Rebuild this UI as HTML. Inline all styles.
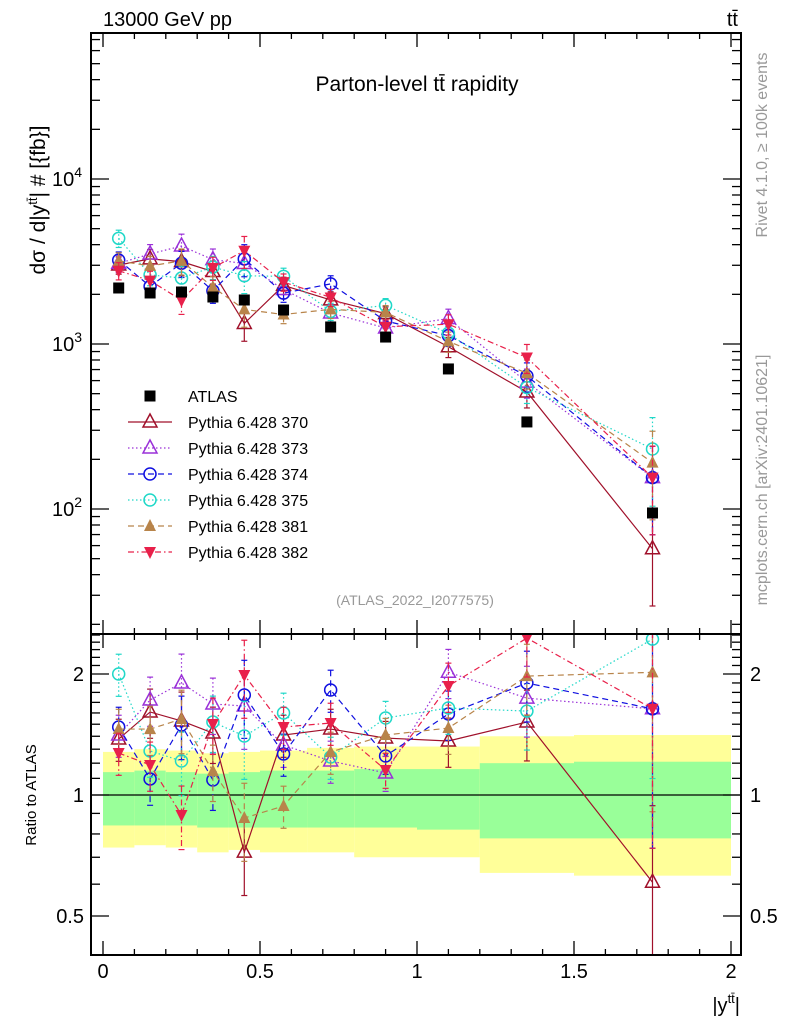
<!DOCTYPE html>
<html><head><meta charset="utf-8">
<style>
body{margin:0;background:#fff;}
svg{display:block;font-family:"Liberation Sans",sans-serif;}
</style></head>
<body>
<svg id="chart" width="786" height="1024" viewBox="0 0 786 1024"></svg>
<script>
const xCenters=[0.05,0.15,0.25,0.35,0.45,0.575,0.725,0.9,1.1,1.35,1.75];
const xEdges=[0,0.1,0.2,0.3,0.4,0.5,0.65,0.8,1.0,1.2,1.5,2.0];
const atlas=[2185,2038,2066,1927,1848,1607,1268,1102,706,337,94.6];
const s370=[3011,3279,3157,2748,1332,2266,1850,1527,962,512,57.4];
const s373=[3081,3512,3925,3245,3077,2139,1541,1250,1426,587,155];
const s374=[3225,2234,3085,2100,3277,2033,2314,1378,1123,640,155];
const s375=[4370,2623,2510,2927,2591,2571,1576,1713,1162,545,231];
const s381=[3188,2973,3192,2210,1620,1509,1622,1554,1036,666,191];
const s382=[2779,2421,1843,2894,3676,2372,1915,1272,1318,828,155];
const mcRelErr=[0.12,0.14,0.18,0.16,0.22,0.12,0.12,0.1,0.14,0.2,0.55];
const totUp=[0.28,0.30,0.29,0.27,0.28,0.29,0.31,0.32,0.32,0.40,0.41];
const totDn=[0.26,0.25,0.26,0.28,0.27,0.28,0.28,0.30,0.30,0.36,0.37];
const statUp=[0.14,0.15,0.14,0.13,0.14,0.15,0.15,0.16,0.16,0.20,0.21];
const statDn=[0.16,0.16,0.16,0.17,0.17,0.17,0.17,0.17,0.18,0.22,0.22];
const xTicks=[0,0.5,1,1.5,2];
const yTicksMain=[2,3,4];

const svg=document.getElementById('chart');
const NS='http://www.w3.org/2000/svg';
const L=91,R=741,T=33,MB=634,RB=955;
const X=v=>103+v*314;
const Y=v=>344-(Math.log10(v)-3)*165;
const YR=r=>795-Math.log2(r)*121;
function el(tag,attrs,parent){const e=document.createElementNS(NS,tag);for(const k in attrs)e.setAttribute(k,attrs[k]);(parent||svg).appendChild(e);return e;}
function txt(s,attrs,parent){const e=el('text',attrs,parent);e.textContent=s;return e;}

const defs=el('defs',{});
const c1=el('clipPath',{id:'cm'},defs);el('rect',{x:L,y:T,width:R-L,height:MB-T},c1);
const c2=el('clipPath',{id:'cr'},defs);el('rect',{x:L,y:MB,width:R-L,height:RB-MB},c2);

const gBand=el('g',{'clip-path':'url(#cr)'});


for(let i=0;i<xCenters.length;i++){
  const x0=X(xEdges[i]),x1=X(xEdges[i+1]);
  const yb=el('rect',{x:x0,y:YR(1+totUp[i]),width:x1-x0,height:YR(1-totDn[i])-YR(1+totUp[i]),fill:'#ffff99'},gBand);
  
  
  const gb=el('rect',{x:x0,y:YR(1+statUp[i]),width:x1-x0,height:YR(1-statDn[i])-YR(1+statUp[i]),fill:'#99ff99'},gBand);
  
  
}
el('line',{x1:L,x2:R,y1:YR(1),y2:YR(1),stroke:'#000','stroke-width':1.2});

const series=[
 {name:'Pythia 6.428 370',v:s370,c:'#a0102a',dash:'',m:'tri-open'},
 {name:'Pythia 6.428 373',v:s373,c:'#9a30d8',dash:'1.5,2.5',m:'tri-open'},
 {name:'Pythia 6.428 374',v:s374,c:'#1010e0',dash:'6,4',m:'circ'},
 {name:'Pythia 6.428 375',v:s375,c:'#20d8c8',dash:'1.5,2.5',m:'circ'},
 {name:'Pythia 6.428 381',v:s381,c:'#b8844a',dash:'6,4',m:'tri-fill'},
 {name:'Pythia 6.428 382',v:s382,c:'#e8204a',dash:'6,3,1.5,3',m:'tri-down'}
];
function marker(g,type,x,y,c){
  if(type==='tri-open')el('polygon',{points:`${x},${y-8} ${x-7},${y+5} ${x+7},${y+5}`,fill:'none',stroke:c,'stroke-width':1.5},g);
  else if(type==='circ')el('circle',{cx:x,cy:y,r:6,fill:'none',stroke:c,'stroke-width':1.5},g);
  else if(type==='tri-fill')el('polygon',{points:`${x},${y-7} ${x-6},${y+5} ${x+6},${y+5}`,fill:c},g);
  else if(type==='tri-down')el('polygon',{points:`${x},${y+7} ${x-6},${y-5} ${x+6},${y-5}`,fill:c},g);
  else if(type==='sq')el('rect',{x:x-5.5,y:y-5.5,width:11,height:11,fill:c},g);
}
function drawSeries(s,yf,ratio,clip){
  const g=el('g',{'clip-path':clip});
  
  
  const vals=s.v.map((v,i)=>ratio?v/atlas[i]:v);
  let d='';
  vals.forEach((v,i)=>{d+=(i?'L':'M')+X(xCenters[i])+','+yf(v);});
  el('path',{d:d,fill:'none',stroke:s.c,'stroke-width':1.2,'stroke-dasharray':s.dash},g);
  vals.forEach((v,i)=>{
    const x=X(xCenters[i]);
    const e=mcRelErr[i];
    const y1=yf(v*(1+e)),y2=yf(Math.max(v*(1-e),1e-6));
    el('line',{x1:x,x2:x,y1:y1,y2:y2,stroke:s.c,'stroke-width':1.2,'stroke-dasharray':s.dash},g);
    el('line',{x1:x-3,x2:x+3,y1:y1,y2:y1,stroke:s.c,'stroke-width':1.2},g);
    el('line',{x1:x-3,x2:x+3,y1:y2,y2:y2,stroke:s.c,'stroke-width':1.2},g);
    marker(g,s.m,x,yf(v),s.c);
  });
}
series.forEach(s=>drawSeries(s,Y,false,'url(#cm)'));
series.forEach(s=>drawSeries(s,YR,true,'url(#cr)'));

const ga=el('g',{'clip-path':'url(#cm)'});


atlas.forEach((v,i)=>{
  const x=X(xCenters[i]);
  el('line',{x1:x,x2:x,y1:Y(v*1.05),y2:Y(v*0.95),stroke:'#000'},ga);
  marker(ga,'sq',x,Y(v),'#000');
});

el('rect',{x:L,y:T,width:R-L,height:MB-T,fill:'none',stroke:'#000','stroke-width':2});
el('rect',{x:L,y:MB,width:R-L,height:RB-MB,fill:'none',stroke:'#000','stroke-width':2});

for(let k=0;k<=20;k++){
  const v=k/10,x=X(v),maj=(k%5===0),len=maj?14:6;
  [[T,1],[MB,-1],[MB,1],[RB,-1]].forEach(([y,dir])=>el('line',{x1:x,x2:x,y1:y,y2:y+dir*len,stroke:'#000','stroke-width':1.3}));
}
xTicks.forEach(v=>{const t=txt(String(v),{x:X(v),y:978,'font-size':20,'text-anchor':'middle'});
 });
for(let d=1;d<=4;d++){for(let m=1;m<=9;m++){
  const v=m*Math.pow(10,d),y=Y(v);if(y<T||y>MB)continue;
  const len=m===1?18:9;
  el('line',{x1:L,x2:L+len,y1:y,y2:y,stroke:'#000','stroke-width':1.3});
  el('line',{x1:R,x2:R-len,y1:y,y2:y,stroke:'#000','stroke-width':1.3});
}}
yTicksMain.forEach(p=>{const t=el('text',{x:82,y:Y(Math.pow(10,p))+7,'font-size':20,'text-anchor':'end'});
 t.innerHTML='10<tspan dy="-9" font-size="14">'+p+'</tspan>';
 });
[0.5,0.6,0.7,0.8,0.9,1,1.1,1.2,1.3,1.4,1.5,1.6,1.7,1.8,1.9,2,2.1,2.2,2.3,2.4,2.5].forEach(r=>{
  const y=YR(r);if(y<MB||y>RB)return;const maj=(r===0.5||r===1||r===2);const len=maj?18:9;
  el('line',{x1:L,x2:L+len,y1:y,y2:y,stroke:'#000','stroke-width':1.3});
  el('line',{x1:R,x2:R-len,y1:y,y2:y,stroke:'#000','stroke-width':1.3});
});
[[2,'2'],[1,'1'],[0.5,'0.5']].forEach(([r,s])=>{
  const a=txt(s,{x:84,y:YR(r)+7,'font-size':20,'text-anchor':'end'});
  
  const b=txt(s,{x:750,y:YR(r)+7,'font-size':20});
  
});

const lg=el('g',{});


const ly0=396,ld=26;
marker(lg,'sq',150,ly0,'#000');
txt('ATLAS',{x:188,y:ly0+6,'font-size':16},lg);
series.forEach((s,i)=>{
  const y=ly0+ld*(i+1);
  el('line',{x1:128,x2:172,y1:y,y2:y,stroke:s.c,'stroke-width':1.3,'stroke-dasharray':s.dash},lg);
  marker(lg,s.m,150,y,s.c);
  txt(s.name,{x:188,y:y+6,'font-size':16},lg);
});
</script>
<div style="position:absolute;left:0;top:0;width:786px;height:1024px;pointer-events:none;">
<svg width="786" height="1024" style="position:absolute;left:0;top:0" font-family="Liberation Sans, sans-serif">
<text x="103" y="26" font-size="20">13000 GeV pp</text>
<text x="738" y="26" font-size="20" text-anchor="end">tt̄</text>
<text x="417" y="91" font-size="21" text-anchor="middle">Parton-level tt̄ rapidity</text>
<text x="415" y="605" font-size="14" fill="#999" text-anchor="middle">(ATLAS_2022_I2077575)</text>
<text transform="translate(45,200) rotate(-90)" font-size="21" text-anchor="middle">dσ / d|y<tspan dy="-8" font-size="13">tt̄</tspan><tspan dy="8">| # [{fb}]</tspan></text>
<text transform="translate(36,795) rotate(-90)" font-size="15" text-anchor="middle">Ratio to ATLAS</text>
<text x="740" y="1012" font-size="20" text-anchor="end">|y<tspan dy="-9" font-size="13">tt̄</tspan><tspan dy="9">|</tspan></text>
<text transform="translate(767,145) rotate(-90)" font-size="16" fill="#999" text-anchor="middle">Rivet 4.1.0, ≥ 100k events</text>
<text transform="translate(767,480) rotate(-90)" font-size="16" fill="#999" text-anchor="middle">mcplots.cern.ch [arXiv:2401.10621]</text>
</svg></div>
</body></html>
